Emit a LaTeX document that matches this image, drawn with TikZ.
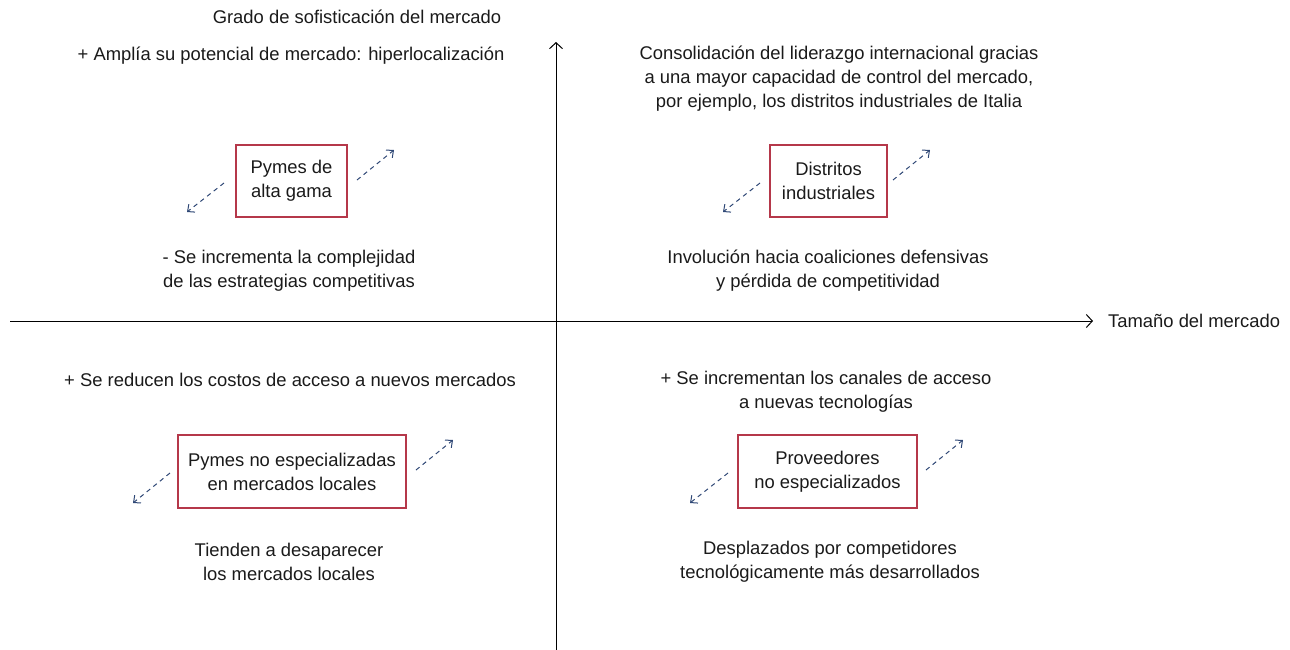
\documentclass[tikz,border=0pt]{standalone}
\usepackage{fontspec}
\setmainfont{Liberation Sans}
\usetikzlibrary{arrows.meta}
\definecolor{boxred}{HTML}{B5384A}
\definecolor{arrblue}{HTML}{2E4775}
\definecolor{txt}{HTML}{1A1A1A}
\begin{document}
\begin{tikzpicture}[x=1pt,y=-1pt,
  every node/.style={font=\fontsize{18.4}{24}\selectfont, text=txt},
  lbl/.style={align=center, inner sep=0pt},
  qbox/.style={draw=boxred, line width=1.1pt, align=center, inner sep=0pt},
  axis/.style={draw=black, line width=1pt, -{Straight Barb[length=6pt,width=13pt]}},
  darr/.style={draw=arrblue, line width=1pt, dash pattern=on 4.5pt off 4pt, -{Straight Barb[length=5.5pt,width=10pt]}}]
\useasboundingbox (0,0) rectangle (1290,649);
% axes
\coordinate (vb) at (556,652);
\coordinate (vt) at (556,42);
\coordinate (hl) at (10,321);
\coordinate (hr) at (1093,321);
\draw[axis] (vb) -- (vt);
\draw[axis] (hl) -- (hr);
\node[lbl] (ytitle) at (357,17) {Grado de sofisticación del mercado};
\node[lbl, anchor=west] (xtitle) at (1108,321) {Tamaño del mercado};
% TL
\node[lbl] (tlt) at (291,56) {+ Amplía su potencial de mercado: hiperlocalización};
\node[qbox, minimum width=111pt, minimum height=72pt] (tlb) at (291.5,181) {Pymes de\\alta gama};
\node[lbl] (tlbt) at (289,271) {- Se incrementa la complejidad\\de las estrategias competitivas};
\coordinate (tla1) at (224,183); \coordinate (tla2) at (187,212);
\coordinate (tlb1) at (357,180); \coordinate (tlb2) at (394,150);
\draw[darr] (tla1) -- (tla2);
\draw[darr] (tlb1) -- (tlb2);
% TR
\node[lbl] (trt) at (839,79) {Consolidación del liderazgo internacional gracias\\a una mayor capacidad de control del mercado,\\por ejemplo, los distritos industriales de Italia};
\node[qbox, minimum width=117pt, minimum height=72pt] (trb) at (828.5,181) {Distritos\\industriales};
\node[lbl] (trbt) at (828,270.5) {Involución hacia coaliciones defensivas\\y pérdida de competitividad};
\coordinate (tra1) at (760,183); \coordinate (tra2) at (723,212);
\coordinate (trb1) at (893,180); \coordinate (trb2) at (930,150);
\draw[darr] (tra1) -- (tra2);
\draw[darr] (trb1) -- (trb2);
% BL
\node[lbl] (blt) at (290,380) {+ Se reducen los costos de acceso a nuevos mercados};
\node[qbox, minimum width=228pt, minimum height=73pt] (blb) at (292,471.5) {Pymes no especializadas\\en mercados locales};
\node[lbl] (blbt) at (289,562) {Tienden a desaparecer\\los mercados locales};
\coordinate (bla1) at (170,473); \coordinate (bla2) at (133,503);
\coordinate (blb1) at (416,470); \coordinate (blb2) at (453,440);
\draw[darr] (bla1) -- (bla2);
\draw[darr] (blb1) -- (blb2);
% BR
\node[lbl] (brt) at (826,392) {+ Se incrementan los canales de acceso\\a nuevas tecnologías};
\node[qbox, minimum width=179pt, minimum height=73pt] (brb) at (827.5,471.5) {Proveedores\\no especializados};
\node[lbl] (brbt) at (830,562) {Desplazados por competidores\\tecnológicamente más desarrollados};
\coordinate (bra1) at (728,473); \coordinate (bra2) at (690,503);
\coordinate (brb1) at (926,470); \coordinate (brb2) at (963,440);
\draw[darr] (bra1) -- (bra2);
\draw[darr] (brb1) -- (brb2);
\end{tikzpicture}
\end{document}
